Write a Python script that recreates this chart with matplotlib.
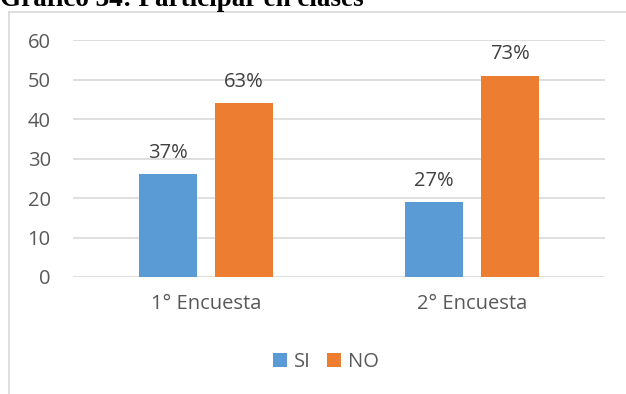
import matplotlib.pyplot as plt
import numpy as np
from matplotlib.lines import Line2D

categories = ['1° Encuesta', '2° Encuesta']
si_values = [26, 19]
no_values = [44, 51]
si_labels = ['37%', '27%']
no_labels = ['63%', '73%']
series_names = ['SI', 'NO']
title = 'Gráfico 34: Participar en clases'

W, H = 626, 394
fig = plt.figure(figsize=(W / 100, H / 100), dpi=100)
ax = fig.add_axes([73 / W, 1 - 277 / H, (605 - 73) / W, (277 - 40) / H])

txt_color = '#595959'
font = 'Open Sans'
fs = 14.5

x = np.arange(len(categories))
bw = 0.22
gap = 0.064
off = (bw + gap) / 2
b1 = ax.bar(x - off, si_values, bw, color='#5B9BD5', label=series_names[0], zorder=3)
b2 = ax.bar(x + off, no_values, bw, color='#ED7D31', label=series_names[1], zorder=3)

for bars, labels in ((b1, si_labels), (b2, no_labels)):
    for rect, lab in zip(bars, labels):
        ax.annotate(lab, (rect.get_x() + rect.get_width() / 2, rect.get_height()),
                    xytext=(0, 8), textcoords='offset points', ha='center', va='bottom',
                    fontsize=fs, color='#404040', family=font)

ax.set_xlim(-0.5, 1.5)
ax.set_ylim(0, 60)
ax.set_yticks(range(0, 61, 10))
ax.set_xticks(x)
ax.set_xticklabels(categories)
ax.tick_params(length=0, labelsize=fs, labelcolor=txt_color)
ax.tick_params(axis='y', pad=16)
ax.tick_params(axis='x', pad=12)
for lab in ax.get_xticklabels() + ax.get_yticklabels():
    lab.set_family(font)
ax.grid(axis='y', color='#d9d9d9', lw=1.2, zorder=0)
for s in ax.spines.values():
    s.set_visible(False)

leg = fig.legend(loc='center', bbox_to_anchor=(326 / W, 1 - 362 / H), ncol=2, frameon=False,
                 handlelength=0.7, handleheight=0.7, handletextpad=0.35, columnspacing=0.8,
                 prop={'family': font, 'size': fs})
for t in leg.get_texts():
    t.set_color(txt_color)

# chart frame (only top and left visible in the crop)
fig.add_artist(Line2D([9 / W, 1], [1 - 12 / H, 1 - 12 / H], color='#d9d9d9', lw=1.2))
fig.add_artist(Line2D([9 / W, 9 / W], [0, 1 - 12 / H], color='#d9d9d9', lw=1.2))

fig.text(0, 1 - 5.5 / H, title, ha='left', va='baseline', fontsize=19.5,
         family='Liberation Serif', weight='bold')

fig.savefig('out.png', dpi=100)
